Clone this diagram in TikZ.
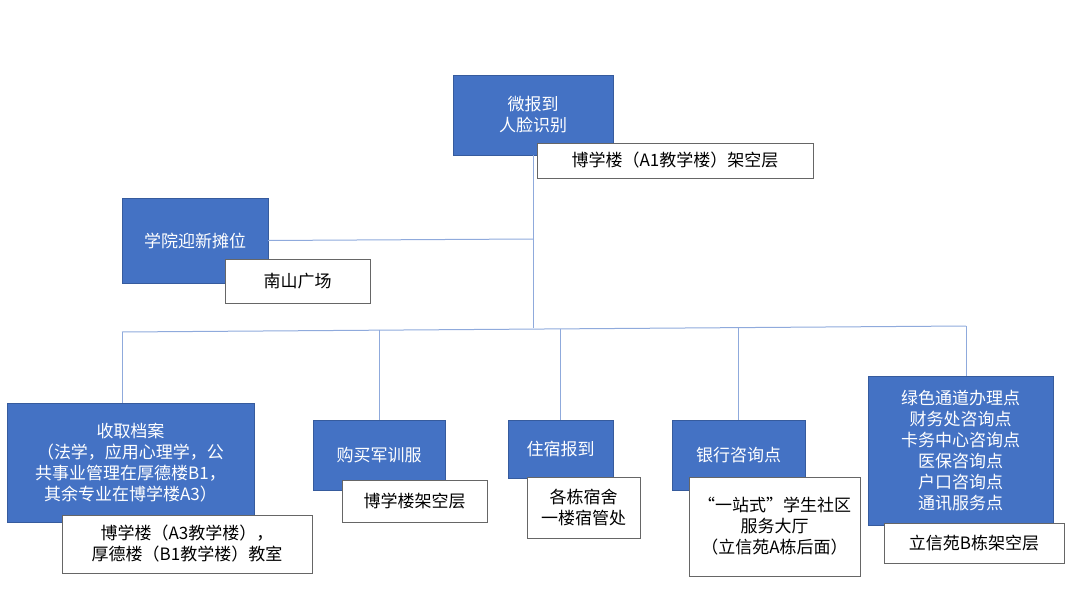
\documentclass[tikz,border=0pt]{standalone}
\usepackage{fontspec}
\setmainfont{Noto Sans CJK SC}
\usetikzlibrary{positioning}
\definecolor{boxblue}{HTML}{4472C4}
\definecolor{linkblue}{HTML}{8FAADC}
\begin{document}
\begin{tikzpicture}[x=1pt,y=-1pt,font=\fontsize{17}{21}\selectfont,
  stage/.style={draw=boxblue!80!black,fill=boxblue,text=white,align=center,inner sep=2pt},
  place/.style={draw=black!60,fill=white,align=center,inner sep=2pt},
  link/.style={draw=linkblue,line width=1pt}]
\useasboundingbox (0,0) rectangle (1080,605);

% define the stages
  \node[stage, minimum width=160, minimum height=80] (face) at (533,115) {微报到\\人脸识别};
  \node[place, minimum width=276, minimum height=35] (faceP) at (675,160.5) {博学楼（A1教学楼）架空层};
  \node[stage, minimum width=146, minimum height=85] (college) at (195,240.5) {学院迎新摊位};
  \node[place, minimum width=145, minimum height=44] (collegeP) at (297.5,281) {南山广场};
  \node[stage, minimum width=247, minimum height=119] (file) at (130.5,462.5) {收取档案\\（法学，应用心理学，公\\共事业管理在厚德楼B1，\\其余专业在博学楼A3）};
  \node[place, minimum width=250, minimum height=58] (fileP) at (187,544) {博学楼（A3教学楼），\\厚德楼（B1教学楼）教室};
  \node[stage, minimum width=132, minimum height=70] (uniform) at (379,455) {购买军训服};
  \node[place, minimum width=145, minimum height=42] (uniformP) at (414.5,501) {博学楼架空层};
  \node[stage, minimum width=105, minimum height=58] (dorm) at (560.5,449) {住宿报到};
  \node[place, minimum width=113, minimum height=61] (dormP) at (583.5,507.5) {各栋宿舍\\一楼宿管处};
  \node[stage, minimum width=133, minimum height=70] (bank) at (738.5,455) {银行咨询点};
  \node[place, minimum width=171, minimum height=99] (bankP) at (774.5,526.5) {“一站式”学生社区\\服务大厅\\（立信苑A栋后面）};
  \node[stage, minimum width=185, minimum height=149] (green) at (960.5,450.5) {绿色通道办理点\\财务处咨询点\\卡务中心咨询点\\医保咨询点\\户口咨询点\\通讯服务点};
  \node[place, minimum width=180, minimum height=40] (greenP) at (974,543) {立信苑B栋架空层};

% define the links
  \coordinate (hub) at (533,239);
  \coordinate (bus) at (533,328);
  \coordinate (busL) at (122,332);
  \coordinate (busR) at (966,326);
  \draw[link] (face.south) -- (bus);
  \draw[link] (college.east) -- (hub);
  \draw[link] (busL) -- (busR);
  \draw[link] (busL) -- (busL |- file.north);
  \draw[link] (uniform.north) ++(0,-90) -- (uniform.north);
  \draw[link] (dorm.north) ++(0,-91) -- (dorm.north);
  \draw[link] (bank.north) ++(0,-92) -- (bank.north);
  \draw[link] (busR) -- (busR |- green.north);
\end{tikzpicture}
\end{document}
